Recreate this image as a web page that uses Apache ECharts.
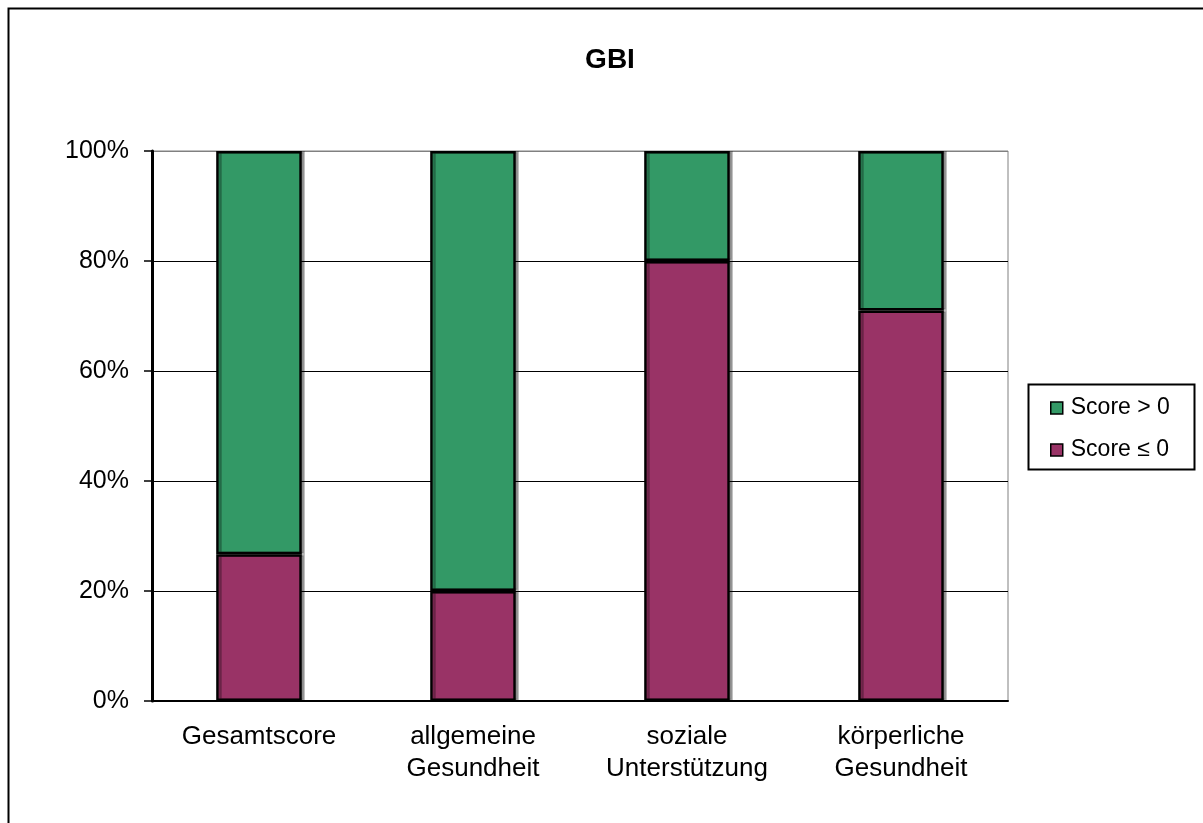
<!DOCTYPE html>
<html>
<head>
<meta charset="utf-8">
<script src="https://cdn.jsdelivr.net/npm/echarts@6/dist/echarts.min.js"></script>
<style>
  html, body { margin: 0; padding: 0; background: #fff; }
  #chart { width: 1203px; height: 823px; }
</style>
</head>
<body>
<div id="chart"></div>
<script>
// GBI – share of scores above / at-or-below zero per subscale
const categories = ['Gesamtscore', 'allgemeine\nGesundheit', 'soziale\nUnterstützung', 'körperliche\nGesundheit'];
const scoreLeZero = [26.7, 20, 80, 71];
const scoreGtZero = [73.3, 80, 20, 29];
const yTicks = [0, 20, 40, 60, 80, 100];

const FONT = '"Liberation Sans", Arial, sans-serif';
const GREEN = '#339966';
const PURPLE = '#993366';

const chart = echarts.init(document.getElementById('chart'), null, { renderer: 'canvas' });

const barStyle = (color) => ({
  color: color,
  borderColor: '#000',
  borderWidth: 2.5,
  shadowColor: 'rgba(0,0,0,0.3)',
  shadowOffsetX: 3,
  shadowOffsetY: 0,
  shadowBlur: 0
});

chart.setOption({
  backgroundColor: '#fff',
  animation: false,
  title: {
    text: 'GBI',
    left: 605,
    top: 41,
    textAlign: 'center',
    textStyle: { fontFamily: FONT, fontSize: 28, fontWeight: 'bold', color: '#000' }
  },
  grid: {
    left: 152, top: 151, right: 195, bottom: 122,
    show: true, borderColor: '#808080', borderWidth: 1, backgroundColor: '#fff'
  },
  legend: {
    orient: 'vertical',
    left: 1045,
    top: 391,
    itemGap: 18,
    itemWidth: 12,
    itemHeight: 12,
    icon: 'rect',
    data: ['Score > 0', 'Score ≤ 0'],
    itemStyle: { borderColor: '#000', borderWidth: 1.5 },
    textStyle: { fontFamily: FONT, fontSize: 23, color: '#000', lineHeight: 24, padding: [0, 0, 0, 3] }
  },
  xAxis: {
    type: 'category',
    data: categories,
    axisLine: { lineStyle: { color: '#000', width: 2 } },
    axisTick: { show: false },
    axisLabel: { fontFamily: FONT, fontSize: 26, color: '#000', lineHeight: 32, margin: 20 }
  },
  yAxis: {
    type: 'value',
    min: 0, max: 100, interval: 20,
    axisLine: { show: true, lineStyle: { color: '#000', width: 3 } },
    axisTick: { show: true, length: 8, lineStyle: { color: '#000', width: 1.5 } },
    axisLabel: {
      formatter: (v) => yTicks.includes(v) ? v + '%' : '',
      fontFamily: FONT, fontSize: 25, color: '#000', margin: 23,
      padding: [6, 0, 0, 0]
    },
    splitLine: { show: true, lineStyle: { color: ['#000', '#000', '#000', '#000', '#000', '#808080'], width: 1 } }
  },
  series: [
    {
      name: 'Score ≤ 0',
      type: 'bar',
      stack: 'total',
      barWidth: '40%',
      data: scoreLeZero,
      itemStyle: barStyle(PURPLE)
    },
    {
      name: 'Score > 0',
      type: 'bar',
      stack: 'total',
      barWidth: '40%',
      data: scoreGtZero,
      itemStyle: barStyle(GREEN)
    }
  ],
  graphic: [
    {
      type: 'rect',
      left: 6, top: 6,
      shape: { width: 1400, height: 1000 },
      style: { fill: 'none', stroke: '#000', lineWidth: 2 },
      silent: true
    },
    {
      type: 'rect',
      left: 1026, top: 382,
      shape: { width: 166, height: 85 },
      style: { fill: 'none', stroke: '#000', lineWidth: 2 },
      silent: true,
      z: 10
    }
  ]
});
</script>
</body>
</html>
